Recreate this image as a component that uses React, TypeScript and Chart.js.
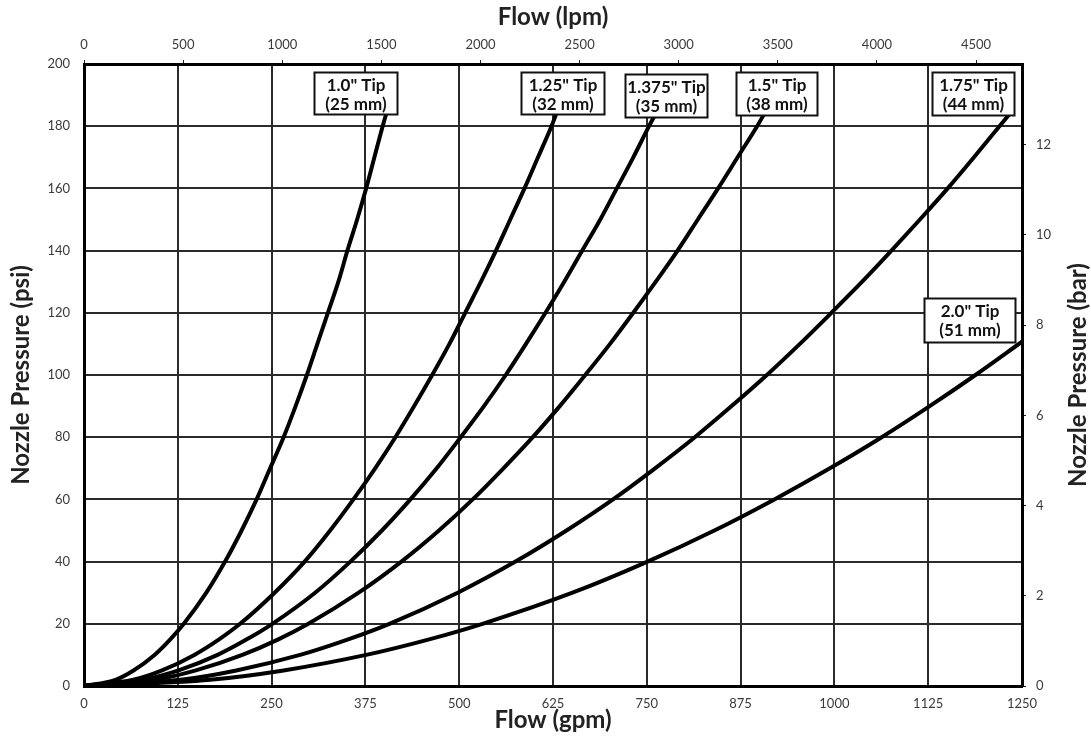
import React, { useEffect, useRef } from 'react';
import { Chart, registerables } from 'chart.js';

Chart.register(...registerables);

// Pressure points (psi) for each curve
const PSI_POINTS = [0, 2, 5, 10, 15, 20, 30, 40, 50, 60, 70, 80, 90, 100, 110, 120, 130, 140, 150, 160, 170, 180, 185];
// Flow (gpm) read at those pressures
const TIP_1_00 = [0, 42, 66, 94, 115, 133, 163, 188, 210, 230, 248, 266, 282, 297, 311, 325, 339, 351, 364, 376, 387, 398, 404];
const TIP_1_25 = [0, 66, 104, 147, 180, 208, 254, 294, 328, 359, 388, 415, 440, 464, 487, 508, 529, 549, 568, 587, 605, 623, 631];
const TIP_1_375 = [0, 79, 126, 178, 217, 251, 308, 355, 397, 435, 470, 502, 533, 562, 589, 615, 640, 664, 688, 710, 732, 753, 764];
const TIP_1_50 = [0, 95, 149, 211, 259, 299, 366, 423, 473, 518, 559, 598, 634, 668, 701, 732, 762, 791, 818, 845, 871, 897, 909];
const TIP_1_75 = [0, 129, 203, 288, 352, 407, 498, 575, 643, 705, 761, 814, 863, 910, 954, 996, 1037, 1076, 1114, 1151, 1186, 1220, 1237];
const PSI_POINTS_2 = [0, 2, 5, 10, 15, 20, 30, 40, 50, 60, 70, 80, 90, 100, 110.7];
const TIP_2_00 = [0, 168, 266, 376, 460, 531, 651, 751, 840, 920, 994, 1063, 1127, 1188, 1250];

const TIP_NAMES = ['1.0" Tip', '1.25" Tip', '1.375" Tip', '1.5" Tip', '1.75" Tip', '2.0" Tip'];
const TIP_MM = ['(25 mm)', '(32 mm)', '(35 mm)', '(38 mm)', '(44 mm)', '(51 mm)'];

// Tick values
const GPM_TICKS = [0, 125, 250, 375, 500, 625, 750, 875, 1000, 1125, 1250];
const LPM_TICKS = [0, 500, 1000, 1500, 2000, 2500, 3000, 3500, 4000, 4500];
const PSI_TICKS = [0, 20, 40, 60, 80, 100, 120, 140, 160, 180, 200];
const BAR_TICKS = [0, 2, 4, 6, 8, 10, 12];

const GPM_MAX = 1250;
const LPM_MAX = GPM_MAX * 3.78541;
const PSI_MAX = 200;
const BAR_MAX = PSI_MAX * 0.0689476;

const FONT = 'Lato';
const TICK_COLOR = '#3a3a3a';
const TITLE_COLOR = '#222';
const GRID_COLOR = '#2a2a2a';

// label box placement: center flow (gpm), top pressure (psi), size in px
const BOX_LAYOUT = [
  { gpm: 361.8, psi: 197.4, w: 83, h: 42 },
  { gpm: 637.5, psi: 197.4, w: 83, h: 42 },
  { gpm: 776.0, psi: 196.7, w: 82, h: 43 },
  { gpm: 922.8, psi: 197.4, w: 81, h: 43 },
  { gpm: 1185.1, psi: 197.4, w: 82, h: 43 },
  { gpm: 1180.7, psi: 124.9, w: 91, h: 44 },
];

const boxPlugin = {
  id: 'tipBoxes',
  afterDatasetsDraw(chart: any) {
    const { ctx, scales } = chart;
    const xs = scales.x;
    const ys = scales.y;
    ctx.save();
    BOX_LAYOUT.forEach((b, i) => {
      const cx = xs.getPixelForValue(b.gpm);
      const top = ys.getPixelForValue(b.psi);
      const left = Math.round(cx - b.w / 2) + 0.5;
      const t = Math.round(top) + 0.5;
      ctx.fillStyle = '#fff';
      ctx.fillRect(left, t, b.w, b.h);
      ctx.strokeStyle = '#111';
      ctx.lineWidth = 2;
      ctx.strokeRect(left, t, b.w, b.h);
      ctx.fillStyle = '#111';
      ctx.font = `bold 17px ${FONT}`;
      ctx.textAlign = 'center';
      ctx.textBaseline = 'alphabetic';
      ctx.fillText(TIP_NAMES[i], left + b.w / 2, t + 18.5);
      ctx.fillText(TIP_MM[i], left + b.w / 2, t + 37.5);
    });
    ctx.restore();
  },
  afterDraw(chart: any) {
    const { ctx, chartArea } = chart;
    ctx.save();
    ctx.translate(chart.width - 13, (chartArea.top + chartArea.bottom) / 2);
    ctx.rotate(-Math.PI / 2);
    ctx.font = `bold 24px ${FONT}`;
    ctx.fillStyle = TITLE_COLOR;
    ctx.textAlign = 'center';
    ctx.textBaseline = 'middle';
    ctx.fillText('Nozzle Pressure (bar)', 0, 0);
    ctx.restore();
  },
};

function makeSeries(xs: number[], ys: number[]) {
  return xs.map((x, i) => ({ x, y: ys[i] }));
}

const setTicks = (vals: number[]) => (scale: any) => {
  scale.ticks = vals.map((v) => ({ value: v }));
};

const tickFont = { family: FONT, size: 13 };
const titleFont = { family: FONT, size: 24, weight: 'bold' };

export default function App() {
  const ref = useRef<HTMLCanvasElement | null>(null);
  useEffect(() => {
    if (!ref.current) return;
    const lineStyle = {
      borderColor: '#000',
      borderWidth: 4,
      pointRadius: 0,
      fill: false,
      cubicInterpolationMode: 'monotone' as const,
      borderJoinStyle: 'round' as const,
      xAxisID: 'x',
      yAxisID: 'y',
    };
    const chart = new Chart(ref.current, {
      type: 'line',
      data: {
        datasets: [
          { ...lineStyle, label: TIP_NAMES[0], data: makeSeries(TIP_1_00, PSI_POINTS) },
          { ...lineStyle, label: TIP_NAMES[1], data: makeSeries(TIP_1_25, PSI_POINTS) },
          { ...lineStyle, label: TIP_NAMES[2], data: makeSeries(TIP_1_375, PSI_POINTS) },
          { ...lineStyle, label: TIP_NAMES[3], data: makeSeries(TIP_1_50, PSI_POINTS) },
          { ...lineStyle, label: TIP_NAMES[4], data: makeSeries(TIP_1_75, PSI_POINTS) },
          { ...lineStyle, label: TIP_NAMES[5], data: makeSeries(TIP_2_00, PSI_POINTS_2) },
        ],
      },
      options: {
        animation: false,
        responsive: false,
        layout: { padding: 0 },
        plugins: { legend: { display: false }, tooltip: { enabled: false } },
        scales: {
          x: {
            type: 'linear',
            position: 'bottom',
            min: 0,
            max: GPM_MAX,
            afterBuildTicks: setTicks(GPM_TICKS),
            afterFit: (s: any) => { s.height = 54; },
            ticks: { font: tickFont, color: TICK_COLOR, padding: 10, autoSkip: false, maxRotation: 0, callback: (v: any) => String(v) },
            grid: { color: GRID_COLOR, lineWidth: 2, drawTicks: false },
            border: { display: true, color: '#000', width: 3 },
            title: { display: true, text: 'Flow (gpm)', font: titleFont, color: TITLE_COLOR, padding: { top: 0, bottom: 5 } },
          },
          x2: {
            type: 'linear',
            position: 'top',
            min: 0,
            max: LPM_MAX,
            afterBuildTicks: setTicks(LPM_TICKS),
            afterFit: (s: any) => { s.height = 64; },
            ticks: { font: tickFont, color: TICK_COLOR, padding: 7, autoSkip: false, maxRotation: 0, callback: (v: any) => String(v) },
            grid: { drawOnChartArea: false, drawTicks: true, tickLength: 4, color: '#222', lineWidth: 1 },
            border: { display: true, color: '#000', width: 3 },
            title: { display: true, text: 'Flow (lpm)', font: titleFont, color: TITLE_COLOR, padding: { top: 3, bottom: 0 } },
          },
          y: {
            type: 'linear',
            position: 'left',
            min: 0,
            max: PSI_MAX,
            afterBuildTicks: setTicks(PSI_TICKS),
            afterFit: (s: any) => { s.width = 84; },
            ticks: { font: tickFont, color: TICK_COLOR, padding: 14, autoSkip: false, callback: (v: any) => String(v) },
            grid: { color: GRID_COLOR, lineWidth: 2, drawTicks: false },
            border: { display: true, color: '#000', width: 3 },
            title: { display: true, text: 'Nozzle Pressure (psi)', font: titleFont, color: TITLE_COLOR, padding: { top: 7, bottom: 0 } },
          },
          y2: {
            type: 'linear',
            position: 'right',
            min: 0,
            max: BAR_MAX,
            afterBuildTicks: setTicks(BAR_TICKS),
            afterFit: (s: any) => { s.width = 69; },
            ticks: { font: tickFont, color: TICK_COLOR, padding: 10, autoSkip: false, callback: (v: any) => String(v) },
            grid: { drawOnChartArea: false, drawTicks: true, tickLength: 4, color: '#222', lineWidth: 1 },
            border: { display: true, color: '#000', width: 3 },
            title: { display: false },
          },
        },
      } as any,
      plugins: [boxPlugin],
    });
    return () => chart.destroy();
  }, []);

  return (
    <div style={{ position: 'fixed', left: 0, top: 0, width: 1091, height: 740, background: '#fff' }}>
      <canvas ref={ref} width={1091} height={740} style={{ display: 'block', width: 1091, height: 740 }} />
    </div>
  );
}
